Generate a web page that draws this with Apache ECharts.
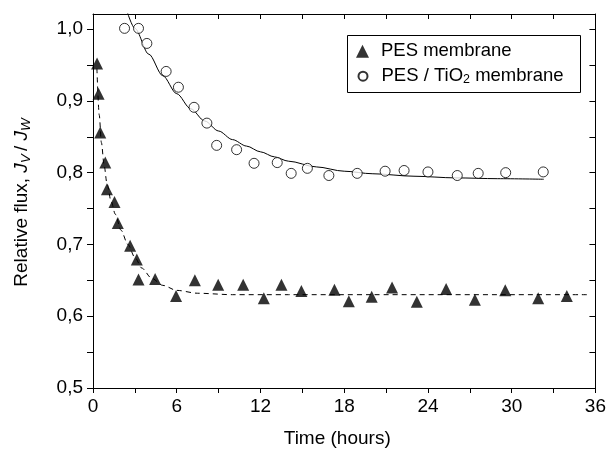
<!DOCTYPE html>
<html>
<head>
<meta charset="utf-8">
<script src="https://cdn.jsdelivr.net/npm/echarts@6/dist/echarts.min.js"></script>
<style>html,body{margin:0;padding:0;background:#fff;}#c{width:609px;height:453px;}</style>
</head>
<body>
<div id="c"></div>
<script>
// ---- data ----
const pesX = [0.29,0.40,0.52,0.88,1.00,1.54,1.78,2.66,3.14,3.26,4.45,5.95,7.30,8.97,10.76,12.24,13.50,14.93,17.30,18.33,19.97,21.43,23.20,25.30,27.36,29.54,31.90,33.95];
const pesY = [0.952,0.910,0.856,0.814,0.777,0.759,0.730,0.698,0.679,0.651,0.652,0.628,0.650,0.644,0.644,0.625,0.644,0.635,0.637,0.621,0.627,0.640,0.620,0.638,0.623,0.636,0.625,0.628];
const tioX = [2.26,3.26,3.86,5.24,6.12,7.24,8.16,8.86,10.29,11.54,13.20,14.20,15.36,16.90,18.93,20.93,22.29,24.00,26.10,27.60,29.57,32.26];
const tioY = [1.001,1.001,0.980,0.941,0.919,0.891,0.869,0.838,0.832,0.813,0.814,0.799,0.806,0.796,0.799,0.802,0.803,0.801,0.796,0.799,0.800,0.801];
const pesFitX = [0.28,0.45,0.6,0.8,1.0,1.3,1.6,2.0,2.5,3.0,3.5,4.2,5.0,6.0,7.5,10,14,20,35.4];
const pesFitY = [0.945,0.880,0.842,0.810,0.785,0.760,0.742,0.720,0.700,0.682,0.667,0.653,0.643,0.636,0.632,0.630,0.630,0.630,0.630];
const tioFitX = [2.4,3,4,5,6,7,8,9,10,11,12,13,14,16,18,20,23,26,29,32.3];
const tioFitY = [1.027,1.001,0.965,0.935,0.910,0.889,0.872,0.858,0.846,0.837,0.829,0.822,0.816,0.808,0.802,0.7985,0.795,0.7927,0.7916,0.7908];
const xTicks = [0,6,12,18,24,30,36];
const yTickLabels = [0.5,0.6,0.7,0.8,0.9,1.0];
const yTickMarks = [0.5,0.55,0.6,0.65,0.7,0.75,0.8,0.85,0.9,0.95,1.0];
const seriesNames = ['PES membrane','PES / TiO2 membrane'];
const xTitle = 'Time (hours)';

const zip = (xs, ys) => xs.map((x, i) => [x, ys[i]]);
const FONT = 'Liberation Sans, Arial, Helvetica, sans-serif';
const FS = 19;
const LFS = 18.5;
const chart = echarts.init(document.getElementById('c'), null, {renderer: 'canvas'});
const black = '#000';
const commonX = {type: 'value', min: xTicks[0], max: xTicks[xTicks.length-1], interval: 6};
const yMax = 1.021;

const legendRich = {
  t: {fontFamily: FONT, fontSize: LFS, color: black, lineHeight: 20, verticalAlign: 'middle'},
  f: {fontFamily: FONT, fontSize: LFS, color: black, lineHeight: 20, verticalAlign: 'middle', padding: [0, 0, 0, 7]},
  g: {fontFamily: FONT, fontSize: LFS, color: black, lineHeight: 20, verticalAlign: 'middle', padding: [0, 0, 0, 9]},
  s: {fontFamily: FONT, fontSize: 12.5, color: black, lineHeight: 10, verticalAlign: 'bottom'}
};

chart.setOption({
  animation: false,
  backgroundColor: '#fff',
  grid: {left: 93, right: 12, top: 14, bottom: 64},
  graphic: [{
    type: 'rect', left: 347, top: 35, z: 10, silent: true,
    shape: {width: 233, height: 57},
    style: {fill: 'rgba(0,0,0,0)', stroke: black, lineWidth: 1}
  }],
  legend: [
    {
      data: [seriesNames[0]],
      left: 356, top: 41.7, padding: 0,
      itemWidth: 13, itemHeight: 13,
      textStyle: {fontFamily: FONT, fontSize: LFS, color: black, rich: legendRich},
      formatter: n => '{f|' + n + '}'
    },
    {
      data: [seriesNames[1]],
      left: 357.5, top: 66.7, padding: 0,
      itemWidth: 9, itemHeight: 9,
      textStyle: {fontFamily: FONT, fontSize: LFS, color: black, rich: legendRich},
      formatter: n => '{g|PES / TiO}{s|2}{t| membrane}'
    }
  ],
  xAxis: [
    Object.assign({}, commonX, {
      position: 'bottom',
      name: xTitle, nameLocation: 'middle', nameGap: 41,
      nameTextStyle: {fontFamily: FONT, fontSize: FS, color: black, padding: [0, 14, 0, 0]},
      axisLine: {show: true, lineStyle: {color: black, width: 1}},
      axisTick: {show: true, inside: false, length: 5, lineStyle: {color: black}},
      minorTick: {show: true, splitNumber: 2, length: 5, lineStyle: {color: black}},
      axisLabel: {fontFamily: FONT, fontSize: FS, color: black, margin: 9},
      splitLine: {show: false}
    }),
    Object.assign({}, commonX, {
      position: 'top',
      axisLine: {show: true, onZero: false, lineStyle: {color: black, width: 1}},
      axisTick: {show: true, inside: true, length: 5, lineStyle: {color: black}},
      minorTick: {show: true, splitNumber: 2, length: 5, lineStyle: {color: black}},
      axisLabel: {show: false},
      splitLine: {show: false}
    })
  ],
  yAxis: [
    {
      type: 'value', min: 0.5, max: yMax, position: 'left',
      name: '{t|Relative flux, }{i|J}{s|V}{t|/ }{i|J}{s|W}',
      nameLocation: 'middle', nameGap: 60,
      nameTextStyle: {fontFamily: FONT, fontSize: FS, color: black,
        rich: {
          t: {fontFamily: FONT, fontSize: FS, color: black, lineHeight: 22, verticalAlign: 'middle'},
          i: {fontFamily: FONT, fontSize: FS, fontStyle: 'italic', color: black, lineHeight: 22, verticalAlign: 'middle'},
          s: {fontFamily: FONT, fontSize: 13.5, fontStyle: 'italic', color: black, lineHeight: 12, verticalAlign: 'bottom', padding: [0, 3, 0, 0]}
        }},
      axisLine: {show: true, onZero: false, lineStyle: {color: black, width: 1}},
      axisTick: {show: true, inside: false, length: 6, customValues: yTickMarks, lineStyle: {color: black}},
      axisLabel: {fontFamily: FONT, fontSize: FS, color: black, margin: 10, customValues: yTickLabels,
        formatter: v => v.toFixed(1).replace('.', ',')},
      splitLine: {show: false}
    },
    {
      type: 'value', min: 0.5, max: yMax, position: 'right',
      axisLine: {show: true, onZero: false, lineStyle: {color: black, width: 1}},
      axisTick: {show: true, inside: true, length: 6, customValues: yTickMarks, lineStyle: {color: black}},
      axisLabel: {show: false},
      splitLine: {show: false}
    }
  ],
  series: [
    {
      name: 'pesFit', type: 'line', data: zip(pesFitX, pesFitY), showSymbol: false, symbol: 'none',
      smooth: 0.3, smoothMonotone: 'x', clip: true,
      lineStyle: {color: black, width: 1, type: [5, 4]}, z: 2, silent: true
    },
    {
      name: 'tioFit', type: 'line', data: zip(tioFitX, tioFitY), showSymbol: false, symbol: 'none',
      smooth: 0.3, smoothMonotone: 'x', clip: true,
      lineStyle: {color: black, width: 1}, z: 2, silent: true
    },
    {
      name: seriesNames[0], type: 'scatter', data: zip(pesX, pesY), symbol: 'triangle', symbolSize: 12,
      itemStyle: {color: black}, z: 3
    },
    {
      name: seriesNames[1], type: 'scatter', data: zip(tioX, tioY), symbol: 'circle', symbolSize: 10,
      itemStyle: {color: '#fff', borderColor: black, borderWidth: 1}, z: 3
    }
  ]
});
</script>
</body>
</html>
